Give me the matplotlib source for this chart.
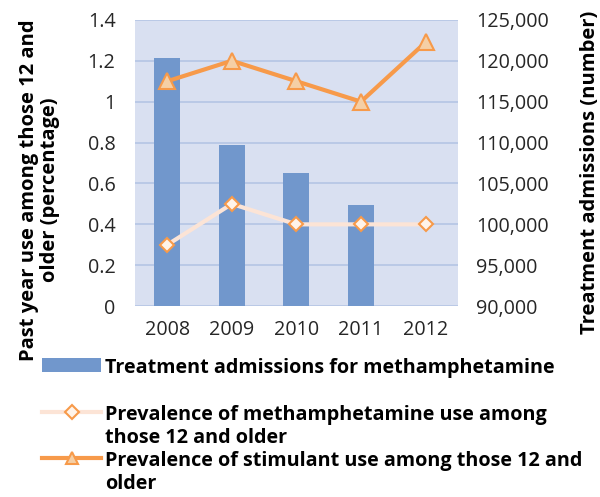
import matplotlib

matplotlib.use("Agg")

import matplotlib.pyplot as plt
from matplotlib.lines import Line2D
from matplotlib.patches import Patch
from matplotlib.ticker import FuncFormatter
import numpy as np

plt.rcParams["font.family"] = ["Open Sans", "DejaVu Sans"]

years = ["2008", "2009", "2010", "2011", "2012"]
admissions = [120350, 109700, 106300, 102350, np.nan]
meth_prev = [0.3, 0.5, 0.4, 0.4, 0.4]
stim_prev = [1.1, 1.2, 1.1, 1.0, 1.29]

left_ticks = [0, 0.2, 0.4, 0.6, 0.8, 1.0, 1.2, 1.4]
right_ticks = [90000, 95000, 100000, 105000, 110000, 115000, 120000, 125000]

BAR = "#7197CC"
BG = "#D9E0F1"
GRID = "#B4C5E4"
ORANGE = "#F79A4A"
TRI_FACE = "#F5CFA5"
PALE = "#FCE4D6"
DIA_FACE = "#FFF4EA"

fig = plt.figure(figsize=(6.0, 4.97), dpi=100)
ax = fig.add_axes([0.225, 0.384, 0.538, 0.576])
ax2 = ax.twinx()

x = np.arange(len(years))

# bars on the right axis, drawn underneath the lines
ax2.bar(x, admissions, width=0.4, color=BAR, zorder=2)
ax2.set_ylim(90000, 125000)
ax2.set_yticks(right_ticks)
ax2.yaxis.set_major_formatter(FuncFormatter(lambda v, p: f"{v:,.0f}"))
ax2.grid(True, axis="y", color=GRID, linewidth=1.2, zorder=0)
ax2.set_axisbelow(True)
ax2.patch.set_visible(True)
ax2.patch.set_facecolor(BG)

ax.set_zorder(ax2.get_zorder() + 1)
ax.patch.set_visible(False)
ax.plot(x, meth_prev, color=PALE, linewidth=3, marker="D", markersize=7,
        markerfacecolor=DIA_FACE, markeredgecolor=ORANGE, markeredgewidth=1.5, zorder=3)
ax.plot(x, stim_prev, color=ORANGE, linewidth=3, marker="^", markersize=12,
        markerfacecolor=TRI_FACE, markeredgecolor=ORANGE, markeredgewidth=1.5, zorder=4)
ax.set_ylim(0, 1.4)
ax.set_yticks(left_ticks)
ax.yaxis.set_major_formatter(FuncFormatter(lambda v, p: f"{v:g}"))
ax.set_xlim(-0.5, len(years) - 0.5)
ax.set_xticks(x)
ax.set_xticklabels(years)

for a in (ax, ax2):
    for s in a.spines.values():
        s.set_visible(False)
    a.tick_params(length=0, labelsize=14.2, colors="#262626")
ax.tick_params(axis="y", pad=14)
ax2.tick_params(axis="y", pad=13)
ax.tick_params(axis="x", pad=10)

fig.text(0.066, 0.618, "Past year use among those 12 and\nolder (percentage)", rotation=90,
         ha="center", va="center", ma="center", fontsize=14.5, fontweight="bold", linespacing=1.1)
fig.text(0.983, 0.654, "Treatment admissions (number)", rotation=90,
         ha="center", va="center", fontsize=14.5, fontweight="bold")

handles = [
    Patch(facecolor=BAR, edgecolor="none"),
    Line2D([], [], color=PALE, linewidth=3, marker="D", markersize=7,
           markerfacecolor=DIA_FACE, markeredgecolor=ORANGE, markeredgewidth=1.5),
    Line2D([], [], color=ORANGE, linewidth=3, marker="^", markersize=9,
           markerfacecolor=TRI_FACE, markeredgecolor=ORANGE, markeredgewidth=1.5),
]
labels = [
    "Treatment admissions for methamphetamine\n",
    "Prevalence of methamphetamine use among\nthose 12 and older",
    "Prevalence of stimulant use among those 12 and\nolder",
]
leg = fig.legend(handles, labels, loc="upper left", bbox_to_anchor=(0.07, 0.279),
                 frameon=False, borderpad=0, borderaxespad=0, handlelength=3.0,
                 handletextpad=0.2, labelspacing=0.18, numpoints=1,
                 prop={"size": 14.2, "weight": "bold"})
for col in leg._legend_handle_box.get_children():
    for row in col.get_children():
        row.align = "top"

fig.savefig("out.png", dpi=100)
